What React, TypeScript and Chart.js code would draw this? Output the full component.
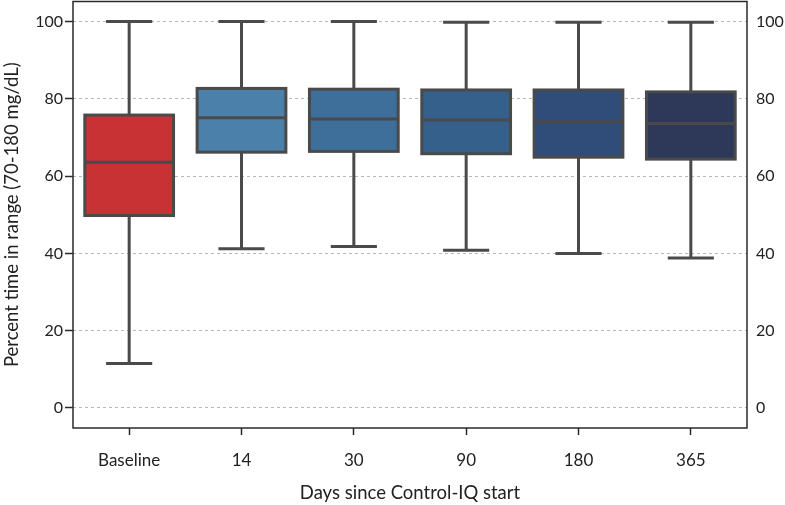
import React, { useEffect, useRef } from 'react';
import { Chart, registerables } from 'chart.js';

Chart.register(...registerables);

const categories = ['Baseline', '14', '30', '90', '180', '365'];
const whiskerLow = [11.5, 41.2, 41.8, 40.8, 40.0, 38.8];
const q1 = [49.8, 66.2, 66.4, 65.8, 64.9, 64.4];
const median = [63.6, 75.1, 74.8, 74.5, 74.1, 73.6];
const q3 = [75.8, 82.7, 82.5, 82.3, 82.3, 81.8];
const whiskerHigh = [100, 100, 100, 99.8, 99.8, 99.8];
const yTicks = [0, 20, 40, 60, 80, 100];
const boxColors = ['#c83234', '#4a80aa', '#3e6e9a', '#35608c', '#2f4d78', '#2e3858'];

const EDGE = '#4a4a4a';
const FONT = 'Lato, "Open Sans", sans-serif';

export default function App() {
  const ref = useRef<HTMLCanvasElement>(null);

  useEffect(() => {
    if (!ref.current) return;

    const boxPlugin = {
      id: 'boxplot',
      beforeDatasetsDraw(chart: any) {
        const { ctx, scales } = chart;
        const meta = chart.getDatasetMeta(0);
        ctx.save();
        ctx.strokeStyle = EDGE;
        ctx.lineWidth = 3;
        ctx.lineCap = 'butt';
        meta.data.forEach((bar: any, i: number) => {
          const x = bar.x;
          const capHalf = bar.width * 0.26;
          const yLo = scales.y.getPixelForValue(whiskerLow[i]);
          const yHi = scales.y.getPixelForValue(whiskerHigh[i]);
          const yQ1 = scales.y.getPixelForValue(q1[i]);
          const yQ3 = scales.y.getPixelForValue(q3[i]);
          ctx.beginPath();
          ctx.moveTo(x, yQ1);
          ctx.lineTo(x, yLo);
          ctx.moveTo(x, yQ3);
          ctx.lineTo(x, yHi);
          ctx.moveTo(x - capHalf, yLo);
          ctx.lineTo(x + capHalf, yLo);
          ctx.moveTo(x - capHalf, yHi);
          ctx.lineTo(x + capHalf, yHi);
          ctx.stroke();
        });
        ctx.restore();
      },
      afterDatasetsDraw(chart: any) {
        const { ctx, scales, chartArea } = chart;
        const meta = chart.getDatasetMeta(0);
        ctx.save();
        ctx.strokeStyle = EDGE;
        ctx.lineWidth = 3;
        meta.data.forEach((bar: any, i: number) => {
          const x = bar.x;
          const half = bar.width / 2;
          const yQ1 = scales.y.getPixelForValue(q1[i]);
          const yQ3 = scales.y.getPixelForValue(q3[i]);
          const yMed = scales.y.getPixelForValue(median[i]);
          ctx.strokeRect(x - half, yQ3, half * 2, yQ1 - yQ3);
          ctx.beginPath();
          ctx.moveTo(x - half, yMed);
          ctx.lineTo(x + half, yMed);
          ctx.stroke();
        });
        ctx.strokeStyle = '#2a2a2a';
        ctx.lineWidth = 1.5;
        ctx.strokeRect(chartArea.left, chartArea.top, chartArea.right - chartArea.left, chartArea.bottom - chartArea.top);
        ctx.restore();
      },
    };

    const noPad = (scale: any) => {
      scale.paddingTop = 0;
      scale.paddingBottom = 0;
      scale.paddingLeft = 0;
      scale.paddingRight = 0;
    };

    const chart = new Chart(ref.current, {
      type: 'bar',
      data: {
        labels: categories,
        datasets: [
          {
            data: categories.map((_, i) => [q1[i], q3[i]]) as any,
            backgroundColor: boxColors,
            borderWidth: 0,
            barPercentage: 0.79,
            categoryPercentage: 1,
          },
        ],
      },
      options: {
        animation: false,
        responsive: false,
        maintainAspectRatio: false,
        layout: { padding: { top: 1.5, left: 0, right: 0, bottom: 0 } },
        plugins: {
          legend: { display: false },
          tooltip: { enabled: false },
        },
        scales: {
          x: {
            offset: true,
            grid: {
              display: true,
              offset: false,
              drawOnChartArea: false,
              drawTicks: true,
              tickLength: 7,
              tickColor: '#2a2a2a',
              tickWidth: 1.5,
            },
            border: { display: false },
            ticks: {
              color: '#222',
              font: { family: FONT, size: 17 },
              padding: 15,
            },
            title: {
              display: true,
              text: 'Days since Control-IQ start',
              color: '#222',
              font: { family: FONT, size: 18.5 },
              padding: { top: 0, bottom: 1 },
            },
            afterFit(scale: any) {
              scale.height = 77;
              noPad(scale);
            },
          },
          y: {
            position: 'left',
            min: -5.2,
            max: 105.2,
            afterBuildTicks(scale: any) {
              scale.ticks = yTicks.map((v) => ({ value: v }));
            },
            grid: {
              color: '#b8b8b8',
              lineWidth: 1,
              drawTicks: true,
              tickLength: 8,
              tickColor: '#2a2a2a',
              tickWidth: 1.5,
              tickBorderDash: [],
            },
            border: { display: false, dash: [3, 3] },
            ticks: {
              color: '#222',
              font: { family: FONT, size: 16 },
              padding: 2,
            },
            title: {
              display: true,
              text: 'Percent time in range (70-180 mg/dL)',
              color: '#222',
              font: { family: FONT, size: 18.5 },
              padding: { top: 1, bottom: 0 },
            },
            afterFit(scale: any) {
              scale.width = 73;
              noPad(scale);
            },
          },
          y2: {
            position: 'right',
            min: -5.2,
            max: 105.2,
            afterBuildTicks(scale: any) {
              scale.ticks = yTicks.map((v) => ({ value: v }));
            },
            grid: { display: false, drawTicks: true, tickLength: 8 },
            border: { display: false },
            ticks: {
              color: '#222',
              font: { family: FONT, size: 16 },
              padding: 1,
            },
            afterFit(scale: any) {
              scale.width = 38;
              noPad(scale);
            },
          },
        },
      },
      plugins: [boxPlugin],
    });

    return () => chart.destroy();
  }, []);

  return (
    <div style={{ position: 'fixed', left: 0, top: 0, width: 785, height: 505, background: '#fff' }}>
      <canvas ref={ref} width={785} height={505} style={{ width: 785, height: 505, display: 'block' }} />
    </div>
  );
}
